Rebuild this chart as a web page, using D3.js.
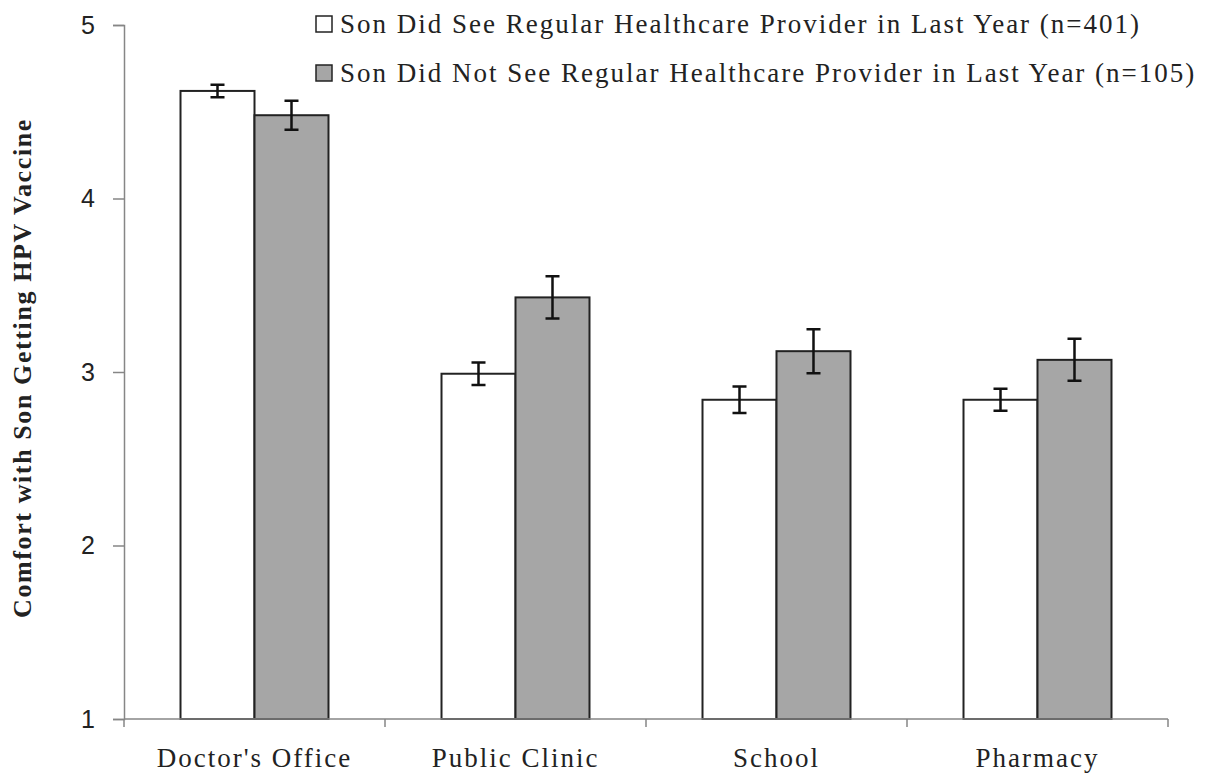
<!DOCTYPE html>
<html>
<head>
<meta charset="utf-8">
<script src="https://cdn.jsdelivr.net/npm/d3@7"></script>
<style>
  html, body { margin: 0; padding: 0; background: #fff; }
  svg { display: block; }
</style>
</head>
<body>
<svg id="chart" width="1218" height="777"></svg>
<script>
const categories = ["Doctor's Office", "Public Clinic", "School", "Pharmacy"];
const seriesNames = [
  "Son Did See Regular Healthcare Provider in Last Year (n=401)",
  "Son Did Not See Regular Healthcare Provider in Last Year (n=105)"
];
const seeValues = [4.62, 2.99, 2.84, 2.84];
const seeErrors = [0.036, 0.065, 0.076, 0.063];
const notSeeValues = [4.48, 3.43, 3.12, 3.07];
const notSeeErrors = [0.084, 0.122, 0.127, 0.121];
const yTicks = [1, 2, 3, 4, 5];
const yLabel = "Comfort with Son Getting HPV Vaccine";

(function () {
const seriesFill = ["#ffffff", "#a6a6a6"];
const series = [
  { name: seriesNames[0], values: seeValues, errors: seeErrors },
  { name: seriesNames[1], values: notSeeValues, errors: notSeeErrors }
];

const svg = d3.select("#chart");
const mLeft = 124, mRight = 1168, mTop = 25, mBottom = 719;

const x0 = d3.scaleBand().domain(categories).range([mLeft, mRight])
  .paddingInner(0.433).paddingOuter(0.2165);
const x1 = d3.scaleBand().domain([0, 1]).range([0, x0.bandwidth()]);
const y = d3.scaleLinear().domain([1, 5]).range([mBottom, mTop]);

const axisColor = "#868686";
const serif = "'Liberation Serif', 'Times New Roman', serif";

// Y axis
const yAxis = svg.append("g").attr("transform", `translate(${mLeft},0)`)
  .call(d3.axisLeft(y).tickValues(yTicks).tickSize(11).tickPadding(18).tickFormat(d3.format("d")));
yAxis.select(".domain").attr("stroke", axisColor).attr("stroke-width", 1.5);
yAxis.selectAll(".tick line").attr("stroke", axisColor).attr("stroke-width", 1.5);
yAxis.selectAll(".tick text")
  .attr("font-family", "'Liberation Sans', Arial, sans-serif")
  .attr("font-size", 25).attr("fill", "#222");

// Bars
const groups = svg.append("g").selectAll("g").data(categories).join("g")
  .attr("transform", d => `translate(${x0(d)},0)`);

series.forEach((s, si) => {
  groups.append("rect")
    .attr("x", x1(si))
    .attr("width", x1.bandwidth())
    .attr("y", (d, i) => y(s.values[i]))
    .attr("height", (d, i) => y(1) - y(s.values[i]))
    .attr("fill", seriesFill[si])
    .attr("stroke", "#222")
    .attr("stroke-width", 2);
});

// X axis
const catBoundaries = [mLeft, ...categories.map(c => x0(c) + x0.bandwidth() + (x0.step() - x0.bandwidth()) / 2)];
const xAxisG = svg.append("g");
xAxisG.append("line").attr("x1", mLeft).attr("x2", mRight).attr("y1", mBottom).attr("y2", mBottom)
  .attr("stroke", axisColor).attr("stroke-width", 1.5);
xAxisG.selectAll("line.tk").data(catBoundaries).join("line").attr("class", "tk")
  .attr("x1", d => d).attr("x2", d => d).attr("y1", mBottom).attr("y2", mBottom + 8)
  .attr("stroke", axisColor).attr("stroke-width", 1.5);
xAxisG.selectAll("text").data(categories).join("text")
  .attr("x", d => x0(d) + x0.bandwidth() / 2)
  .attr("y", 767)
  .attr("text-anchor", "middle")
  .attr("font-family", serif)
  .attr("font-size", 27)
  .attr("letter-spacing", 2)
  .attr("fill", "#222")
  .text(d => d);

// Error bars
const cap = 7;
series.forEach((s, si) => {
  const cx = x1(si) + x1.bandwidth() / 2;
  groups.append("path")
    .attr("d", (d, i) => {
      const hi = y(s.values[i] + s.errors[i]), lo = y(s.values[i] - s.errors[i]);
      return `M${cx - cap},${hi}H${cx + cap}M${cx},${hi}V${lo}M${cx - cap},${lo}H${cx + cap}`;
    })
    .attr("fill", "none").attr("stroke", "#111").attr("stroke-width", 2.5);
});

// Y label
svg.append("text")
  .attr("transform", `translate(31,368) rotate(-90)`)
  .attr("text-anchor", "middle")
  .attr("font-family", serif)
  .attr("font-weight", "bold")
  .attr("font-size", 26)
  .attr("letter-spacing", 1.6)
  .attr("fill", "#222")
  .text(yLabel);

// Legend
const legend = svg.append("g");
const legendRows = [24, 73];
series.forEach((s, si) => {
  legend.append("rect")
    .attr("x", 316).attr("y", legendRows[si] - 8).attr("width", 16).attr("height", 16)
    .attr("fill", seriesFill[si]).attr("stroke", "#222").attr("stroke-width", 1.5);
  legend.append("text")
    .attr("x", 340).attr("y", legendRows[si] + 9)
    .attr("font-family", serif)
    .attr("font-size", 27)
    .attr("letter-spacing", 2)
    .attr("fill", "#222")
    .text(s.name);
});
})();
</script>
</body>
</html>
